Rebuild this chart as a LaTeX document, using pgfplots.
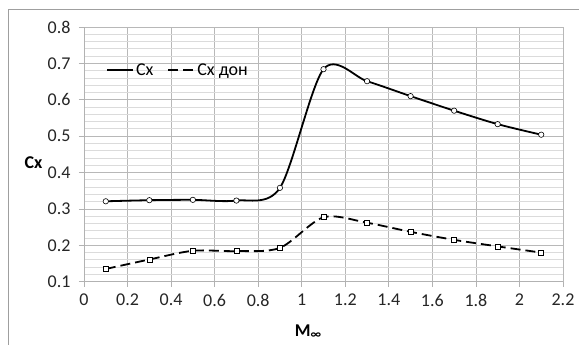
\documentclass[border=0pt]{standalone}
\usepackage{pgfplots}
\pgfplotsset{compat=1.18}
\usepackage{fontspec}
\setmainfont{Carlito}
\begin{document}
\begin{tikzpicture}
\useasboundingbox (0,0) rectangle (579bp,345bp);
\fill[white] (0,0) rectangle (579bp,345bp);
\draw[gray!75, line width=1bp] (8bp,0) -- (8bp,335bp) -- (590bp,335bp);
\begin{axis}[
  at={(84bp,63.3bp)}, anchor=south west,
  scale only axis, width=479bp, height=254.7bp,
  xmin=0, xmax=2.2, ymin=0.1, ymax=0.8,
  xtick={0,0.2,0.4,0.6,0.8,1,1.2,1.4,1.6,1.8,2,2.2},
  ytick={0.1,0.2,0.3,0.4,0.5,0.6,0.7,0.8},
  minor y tick num=4,
  grid=both,
  major grid style={draw=black!28, line width=0.8bp},
  minor grid style={draw=black!14, line width=0.8bp},
  axis lines*=left,
  axis line style={draw=black!30, line width=0.8bp},
  tick align=outside,
  major tick length=5bp, minor tick length=0pt,
  tick style={draw=black!30, line width=0.8bp},
  /pgf/number format/assume math mode=true,
  tick label style={font=\fontsize{18bp}{20bp}\selectfont, text=black!85},
  yticklabel style={xshift=-5bp},
  xticklabel style={yshift=-4bp},
  legend style={draw=none, fill=none, at={(0.04,0.83)}, anchor=west,
    font=\fontsize{18bp}{20bp}\selectfont, legend columns=2,
    /tikz/every even column/.append style={column sep=12bp}},
  legend cell align=left,
  legend image code/.code={\draw[#1, mark repeat=2, mark phase=2] (0bp,0bp) -- (13bp,0bp) -- (26bp,0bp);},
  clip=false,
]
\addplot[black, line width=1.8bp, smooth, mark=*, mark size=2.7bp,
  mark options={fill=white, draw=black, line width=0.6bp, solid}]
  coordinates {(0.1,0.321) (0.3,0.324) (0.5,0.325) (0.7,0.323) (0.9,0.358) (1.1,0.684) (1.3,0.651) (1.5,0.610) (1.7,0.570) (1.9,0.533) (2.1,0.504)};
\addlegendentry{Cx}
\addplot[black, line width=1.8bp, smooth, dash pattern=on 10bp off 5bp, mark=square*, mark size=2.5bp,
  mark options={fill=white, draw=black, line width=0.6bp, solid}]
  coordinates {(0.1,0.135) (0.3,0.161) (0.5,0.185) (0.7,0.184) (0.9,0.193) (1.1,0.277) (1.3,0.262) (1.5,0.237) (1.7,0.215) (1.9,0.197) (2.1,0.180)};
\addlegendentry{Cx дон}
\node[font=\bfseries\fontsize{18bp}{20bp}\selectfont] at ([xshift=-50.5bp]rel axis cs:0,0.466) {Cx};
\node[font=\bfseries\fontsize{18bp}{20bp}\selectfont] at ([yshift=-50bp]rel axis cs:0.468,0) {M\textsubscript{∞}};
\end{axis}
\end{tikzpicture}
\end{document}
